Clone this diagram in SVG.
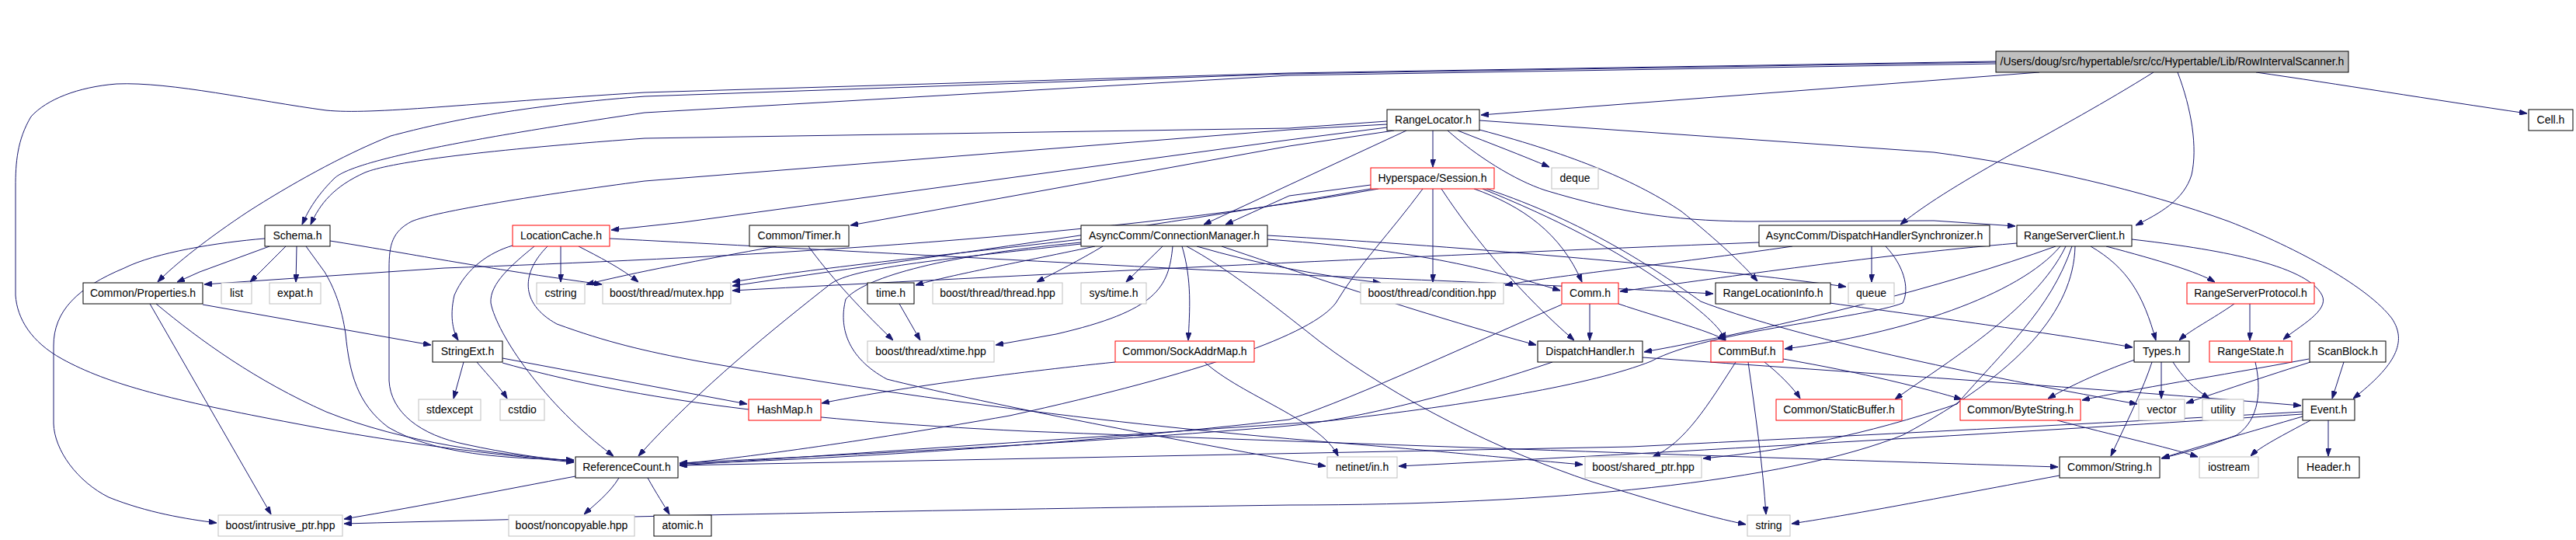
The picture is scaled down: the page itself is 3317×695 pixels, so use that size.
<svg xmlns="http://www.w3.org/2000/svg" width="3317" height="695" viewBox="0 0 3317 695">
<defs>
<marker id="a" viewBox="0 0 10 7" refX="10" refY="3.5" markerWidth="10" markerHeight="7" markerUnits="userSpaceOnUse" orient="auto"><path d="M0,0L10,3.5L0,7z" fill="#191970" stroke="#191970" stroke-width="1"/></marker>
</defs>
<style>
.e path{fill:none;stroke:#191970;stroke-width:1;marker-end:url(#a)}
.b rect{fill:#fff;stroke:#000;stroke-width:1}
.g rect{fill:#fff;stroke:#bfbfbf;stroke-width:1}
.r rect{fill:#fff;stroke:#f00;stroke-width:1}
.root rect{fill:#bfbfbf;stroke:#000;stroke-width:1}
text{font-family:"Liberation Sans",Arial,Helvetica,sans-serif;font-size:14px;text-anchor:middle;fill:#000}
</style>
<rect width="3317" height="695" fill="#fff"/>
<g id="edges" class="e">
<path d="M2626,93 L1907,148"/>
<path d="M2905,93 C3010,108 3130,128 3254,146"/>
<path d="M2804,93 C2822,140 2830,190 2822,225 C2812,258 2780,275 2750,290"/>
<path d="M2773,93 C2650,170 2520,230 2447,289"/>
<path d="M2570,82 L1660,97 L830,145 C560,185 450,210 430,230 C405,255 395,275 389,289"/>
<path d="M2570,80 L1660,95 L830,124 C650,138 560,160 503,175 C440,200 370,240 320,272 C270,305 225,340 203,363"/>
<path d="M2570,79 L1660,94 L830,119 C600,133 480,148 420,142 C330,130 220,105 150,108 C100,112 60,128 40,150 C22,180 20,210 20,240 L20,380 C22,410 40,440 80,462 C140,495 220,515 380,545 C520,572 640,585 739,595"/>
<path d="M1845,168 L1845,215"/>
<path d="M1877,168 C1920,185 1960,200 1995,215"/>
<path d="M1786,156 L1660,165 L830,178 C600,195 500,210 470,222 C430,240 412,262 400,289"/>
<path d="M1786,160 L1660,167 L830,233 C700,250 560,272 530,285 C505,298 501,315 501,345 L501,490 C503,530 540,560 600,572 C650,583 700,590 739,594"/>
<path d="M1786,164 L1660,180 L880,286 L787,296"/>
<path d="M1795,168 L1660,188 L1095,290"/>
<path d="M1811,168 L1660,238 L1550,289"/>
<path d="M1864,168 C1900,200 1950,232 1990,245 C2080,272 2150,284 2250,285 L2490,284 L2595,291"/>
<path d="M1905,167 C2030,200 2110,235 2165,272 C2200,300 2240,335 2263,362"/>
<path d="M1905,155 L2490,196 C2620,213 2760,245 2870,285 C2960,320 3050,370 3080,410 C3100,440 3085,470 3030,513"/>
<path d="M1765,238 L1660,252 L1578,289"/>
<path d="M1765,243 C1500,290 1200,330 943,368"/>
<path d="M1775,243 C1400,310 900,333 572,345 L263,366"/>
<path d="M1832,243 C1790,300 1750,340 1720,390 C1690,430 1550,480 1300,535 C1100,570 950,590 875,597"/>
<path d="M1845,243 L1845,363"/>
<path d="M1856,243 C1900,310 1960,380 2027,438"/>
<path d="M1898,243 C1960,265 2010,300 2037,363"/>
<path d="M1909,243 C2000,280 2080,320 2150,370 C2190,400 2215,420 2222,438"/>
<path d="M1914,243 C2040,285 2130,345 2190,388 C2300,430 2500,475 2752,520"/>
<path d="M1392,308 C1200,330 1050,345 943,363"/>
<path d="M1410,317 C1300,340 1220,355 1179,367"/>
<path d="M1420,317 C1390,335 1360,350 1335,363"/>
<path d="M1497,317 L1450,363"/>
<path d="M1510,317 C1505,370 1490,400 1360,430 L1282,444"/>
<path d="M1522,317 C1535,360 1532,400 1530,438"/>
<path d="M1541,317 C1620,340 1700,355 1778,364"/>
<path d="M1632,308 C1800,320 1900,340 2009,374"/>
<path d="M1573,317 C1700,360 1850,410 1978,444"/>
<path d="M1632,303 C1900,318 2200,345 2377,369"/>
<path d="M1528,317 C1580,345 1630,385 1700,440 C1800,515 1930,580 2050,620 C2140,648 2200,665 2248,675"/>
<path d="M1392,312 C1200,330 1110,360 1089,385 C1080,420 1090,460 1142,488 C1250,515 1500,565 1707,600"/>
<path d="M1392,314 C1200,335 1100,345 1070,365 C1000,420 900,500 822,587"/>
<path d="M347,317 L257,350 L228,363"/>
<path d="M368,317 L322,363"/>
<path d="M382,317 L381,363"/>
<path d="M394,317 L418,350 C430,370 440,395 445,430 C450,480 460,520 500,550 C560,585 650,590 739,592"/>
<path d="M341,307 C280,312 200,325 160,345 C100,370 69,400 69,445 L69,545 C70,580 100,620 140,640 C190,660 240,668 279,673"/>
<path d="M425,310 C520,325 620,345 775,366"/>
<path d="M722,317 L722,363"/>
<path d="M745,317 C770,330 800,345 822,363"/>
<path d="M660,316 C630,325 600,345 585,380 C578,410 585,430 590,438"/>
<path d="M688,317 C660,340 630,365 632,390 C640,430 700,520 790,587"/>
<path d="M785,307 C1000,318 1400,340 1700,355 C1950,365 2100,372 2206,378"/>
<path d="M705,317 C672,350 668,390 717,417 C780,440 830,452 900,465 C1100,500 1400,545 1760,573 C1900,585 1980,593 2038,598"/>
<path d="M1000,317 C900,335 820,350 755,366"/>
<path d="M1041,317 C1065,350 1100,390 1150,438"/>
<path d="M1158,391 L1185,438"/>
<path d="M193,391 L349,662"/>
<path d="M201,391 C260,440 330,490 420,530 C520,570 640,585 739,593"/>
<path d="M261,392 L555,444"/>
<path d="M597,466 L584,513"/>
<path d="M614,466 C630,485 645,500 653,513"/>
<path d="M647,461 L962,520"/>
<path d="M647,467 C800,510 1000,540 1322,555 C1700,570 2300,590 2650,601"/>
<path d="M1436,466 C1300,480 1150,500 1058,519"/>
<path d="M1551,466 C1600,510 1700,540 1723,587"/>
<path d="M2410,317 L2410,363"/>
<path d="M2308,317 C2150,340 2000,355 1938,367"/>
<path d="M2265,312 C1800,330 1300,355 943,374"/>
<path d="M2428,317 C2450,340 2460,370 2450,390 C2400,410 2200,425 2126,465 C2050,495 1900,520 1708,542 L875,599"/>
<path d="M2712,317 C2780,335 2830,350 2852,363"/>
<path d="M2692,317 C2740,345 2760,380 2776,438"/>
<path d="M2745,308 C2850,320 2970,340 2990,380 C3000,400 2960,420 2940,437"/>
<path d="M2597,313 C2400,330 2200,360 2086,375"/>
<path d="M2647,317 C2500,370 2300,420 2117,453"/>
<path d="M2653,317 C2600,380 2450,430 2298,449"/>
<path d="M2660,317 C2620,400 2500,470 2440,514"/>
<path d="M2668,317 C2640,400 2580,450 2520,520 C2400,560 2300,580 2193,590"/>
<path d="M2672,317 C2670,400 2600,480 2450,560 C2300,620 2000,650 1660,650 C1300,655 900,662 443,674"/>
<path d="M2877,391 C2850,410 2820,425 2806,438"/>
<path d="M2897,391 L2897,438"/>
<path d="M2356,390 C2500,410 2650,430 2746,447"/>
<path d="M2047,391 L2047,438"/>
<path d="M2084,391 C2140,410 2200,425 2222,438"/>
<path d="M2011,392 C1900,440 1750,510 1660,540 C1400,570 1100,590 875,597"/>
<path d="M2272,466 C2290,480 2310,500 2318,513"/>
<path d="M2235,466 C2200,520 2170,570 2128,588"/>
<path d="M2251,466 C2260,530 2270,600 2274,662"/>
<path d="M2296,462 C2400,480 2480,500 2526,514"/>
<path d="M2115,460 C2400,480 2700,500 2963,522"/>
<path d="M1999,466 C1900,500 1750,540 1660,548 C1400,570 1100,585 875,596"/>
<path d="M2749,463 C2700,480 2660,500 2637,513"/>
<path d="M2783,466 L2783,513"/>
<path d="M2798,466 C2810,485 2825,500 2845,513"/>
<path d="M2771,466 C2760,500 2740,540 2718,587"/>
<path d="M2904,466 C2912,500 2910,540 2880,560 C2830,580 2800,585 2784,590"/>
<path d="M3018,466 L3003,513"/>
<path d="M2975,466 C2900,490 2840,510 2815,519"/>
<path d="M2973,462 C2850,485 2750,500 2681,515"/>
<path d="M2998,541 L2998,587"/>
<path d="M2975,541 C2940,560 2910,575 2898,587"/>
<path d="M2965,536 C2900,555 2830,575 2783,590"/>
<path d="M2965,533 C2700,550 2200,580 1801,600"/>
<path d="M2965,530 C2700,545 2400,560 2100,575 L875,599"/>
<path d="M2649,541 C2720,560 2790,575 2830,588"/>
<path d="M2652,612 C2500,640 2400,660 2307,674"/>
<path d="M741,613 C650,630 550,650 443,668"/>
<path d="M797,615 C785,635 765,650 752,662"/>
<path d="M834,615 C845,635 855,650 862,662"/>
</g>
<g id="n_root" class="root"><rect x="2570" y="66" width="454" height="27"/><text x="2797" y="84">/Users/doug/src/hypertable/src/cc/Hypertable/Lib/RowIntervalScanner.h</text></g>
<g id="n_rangelocator" class="b"><rect x="1786" y="141" width="119" height="27"/><text x="1845.5" y="159">RangeLocator.h</text></g>
<g id="n_cell" class="b"><rect x="3256" y="141" width="57" height="27"/><text x="3284.5" y="159">Cell.h</text></g>
<g id="n_session" class="r"><rect x="1765" y="216" width="159" height="27"/><text x="1844.5" y="234">Hyperspace/Session.h</text></g>
<g id="n_deque" class="g"><rect x="1998" y="216" width="60" height="27"/><text x="2028" y="234">deque</text></g>
<g id="n_schema" class="b"><rect x="341" y="290" width="84" height="27"/><text x="383" y="308">Schema.h</text></g>
<g id="n_locationcache" class="r"><rect x="660" y="290" width="125" height="27"/><text x="722.5" y="308">LocationCache.h</text></g>
<g id="n_timer" class="b"><rect x="965" y="290" width="128" height="27"/><text x="1029" y="308">Common/Timer.h</text></g>
<g id="n_connmgr" class="b"><rect x="1392" y="290" width="240" height="27"/><text x="1512" y="308">AsyncComm/ConnectionManager.h</text></g>
<g id="n_dhs" class="b"><rect x="2265" y="290" width="297" height="27"/><text x="2413.5" y="308">AsyncComm/DispatchHandlerSynchronizer.h</text></g>
<g id="n_rsc" class="b"><rect x="2597" y="290" width="148" height="27"/><text x="2671" y="308">RangeServerClient.h</text></g>
<g id="n_properties" class="b"><rect x="107" y="364" width="154" height="27"/><text x="184" y="382">Common/Properties.h</text></g>
<g id="n_list" class="g"><rect x="285" y="364" width="39" height="27"/><text x="304.5" y="382">list</text></g>
<g id="n_expat" class="g"><rect x="347" y="364" width="66" height="27"/><text x="380" y="382">expat.h</text></g>
<g id="n_cstring" class="g"><rect x="691" y="364" width="62" height="27"/><text x="722" y="382">cstring</text></g>
<g id="n_mutex" class="g"><rect x="776" y="364" width="165" height="27"/><text x="858.5" y="382">boost/thread/mutex.hpp</text></g>
<g id="n_timeh" class="b"><rect x="1117" y="364" width="60" height="27"/><text x="1147" y="382">time.h</text></g>
<g id="n_thread" class="g"><rect x="1201" y="364" width="167" height="27"/><text x="1284.5" y="382">boost/thread/thread.hpp</text></g>
<g id="n_systime" class="g"><rect x="1392" y="364" width="84" height="27"/><text x="1434" y="382">sys/time.h</text></g>
<g id="n_condition" class="g"><rect x="1752" y="364" width="184" height="27"/><text x="1844" y="382">boost/thread/condition.hpp</text></g>
<g id="n_comm" class="r"><rect x="2011" y="364" width="73" height="27"/><text x="2047.5" y="382">Comm.h</text></g>
<g id="n_rli" class="b"><rect x="2209" y="364" width="148" height="27"/><text x="2283" y="382">RangeLocationInfo.h</text></g>
<g id="n_queue" class="g"><rect x="2380" y="364" width="59" height="27"/><text x="2409.5" y="382">queue</text></g>
<g id="n_rsp" class="r"><rect x="2816" y="364" width="164" height="27"/><text x="2898" y="382">RangeServerProtocol.h</text></g>
<g id="n_stringext" class="b"><rect x="557" y="439" width="90" height="27"/><text x="602" y="457">StringExt.h</text></g>
<g id="n_xtime" class="g"><rect x="1117" y="439" width="163" height="27"/><text x="1198.5" y="457">boost/thread/xtime.hpp</text></g>
<g id="n_sockaddrmap" class="r"><rect x="1436" y="439" width="179" height="27"/><text x="1525.5" y="457">Common/SockAddrMap.h</text></g>
<g id="n_dispatchhandler" class="b"><rect x="1980" y="439" width="135" height="27"/><text x="2047.5" y="457">DispatchHandler.h</text></g>
<g id="n_commbuf" class="r"><rect x="2203" y="439" width="93" height="27"/><text x="2249.5" y="457">CommBuf.h</text></g>
<g id="n_types" class="b"><rect x="2748" y="439" width="71" height="27"/><text x="2783.5" y="457">Types.h</text></g>
<g id="n_rangestate" class="r"><rect x="2845" y="439" width="106" height="27"/><text x="2898" y="457">RangeState.h</text></g>
<g id="n_scanblock" class="b"><rect x="2974" y="439" width="98" height="27"/><text x="3023" y="457">ScanBlock.h</text></g>
<g id="n_stdexcept" class="g"><rect x="539" y="514" width="80" height="27"/><text x="579" y="532">stdexcept</text></g>
<g id="n_cstdio" class="g"><rect x="644" y="514" width="57" height="27"/><text x="672.5" y="532">cstdio</text></g>
<g id="n_hashmap" class="r"><rect x="964" y="514" width="93" height="27"/><text x="1010.5" y="532">HashMap.h</text></g>
<g id="n_staticbuffer" class="r"><rect x="2287" y="514" width="162" height="27"/><text x="2368" y="532">Common/StaticBuffer.h</text></g>
<g id="n_bytestring" class="r"><rect x="2524" y="514" width="155" height="27"/><text x="2601.5" y="532">Common/ByteString.h</text></g>
<g id="n_vector" class="g"><rect x="2754" y="514" width="59" height="27"/><text x="2783.5" y="532">vector</text></g>
<g id="n_utility" class="g"><rect x="2836" y="514" width="53" height="27"/><text x="2862.5" y="532">utility</text></g>
<g id="n_event" class="b"><rect x="2965" y="514" width="67" height="27"/><text x="2998.5" y="532">Event.h</text></g>
<g id="n_refcount" class="b"><rect x="741" y="588" width="132" height="27"/><text x="807" y="606">ReferenceCount.h</text></g>
<g id="n_netinet" class="g"><rect x="1709" y="588" width="90" height="27"/><text x="1754" y="606">netinet/in.h</text></g>
<g id="n_sharedptr" class="g"><rect x="2041" y="588" width="150" height="27"/><text x="2116" y="606">boost/shared_ptr.hpp</text></g>
<g id="n_string_h" class="b"><rect x="2652" y="588" width="129" height="27"/><text x="2716.5" y="606">Common/String.h</text></g>
<g id="n_iostream" class="g"><rect x="2832" y="588" width="76" height="27"/><text x="2870" y="606">iostream</text></g>
<g id="n_header" class="b"><rect x="2959" y="588" width="79" height="27"/><text x="2998.5" y="606">Header.h</text></g>
<g id="n_intrusive" class="g"><rect x="281" y="663" width="160" height="27"/><text x="361" y="681">boost/intrusive_ptr.hpp</text></g>
<g id="n_noncopyable" class="g"><rect x="655" y="663" width="162" height="27"/><text x="736" y="681">boost/noncopyable.hpp</text></g>
<g id="n_atomic" class="b"><rect x="842" y="663" width="74" height="27"/><text x="879" y="681">atomic.h</text></g>
<g id="n_string" class="g"><rect x="2250" y="663" width="55" height="27"/><text x="2277.5" y="681">string</text></g>
</svg>
